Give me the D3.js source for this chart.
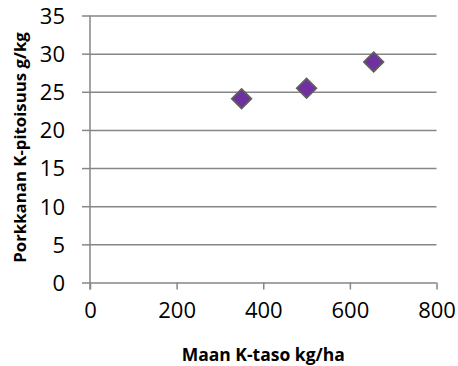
<!DOCTYPE html>
<html>
<head>
<meta charset="utf-8">
<script src="https://cdn.jsdelivr.net/npm/d3@7"></script>
<style>
  html, body { margin: 0; padding: 0; background: #fff; }
  svg { display: block; }
</style>
</head>
<body>
<svg id="chart" width="458" height="366"></svg>
<script>
// Soil K level (kg/ha) vs. carrot K content (g/kg)
const soilK = [350, 500, 655];
const carrotK = [24.1, 25.45, 28.9];
const xTicks = [0, 200, 400, 600, 800];
const yTicks = [0, 5, 10, 15, 20, 25, 30, 35];
const xTitle = "Maan K-taso kg/ha";
const yTitle = "Porkkanan K-pitoisuus g/kg";

const svg = d3.select("#chart");
const plot = { left: 90, right: 436.5, top: 15.5, bottom: 282.5 };
const gridColor = "#868686";
const font = "'Open Sans', sans-serif";

const x = d3.scaleLinear().domain([0, 800]).range([plot.left, plot.right]);
const y = d3.scaleLinear().domain([0, 35]).range([plot.bottom, plot.top]);

// horizontal gridlines, extending past the axis as tick marks
const yAxis = d3.axisLeft(y).tickValues(yTicks).tickSize(8).tickFormat(d => d).tickPadding(17);
const gy = svg.append("g").attr("transform", `translate(${plot.left},0)`).call(yAxis);
gy.select(".domain").remove();
gy.selectAll(".tick line").attr("stroke", gridColor).attr("stroke-width", 1.5);
gy.selectAll(".tick").append("line")
  .attr("x1", 0).attr("x2", plot.right - plot.left)
  .attr("stroke", gridColor).attr("stroke-width", 1.5);
gy.selectAll(".tick text")
  .attr("font-family", font).attr("font-size", 22).attr("fill", "#000")
  .attr("dy", "0.36em");

// x axis with downward ticks
const xAxis = d3.axisBottom(x).tickValues(xTicks).tickSize(7).tickFormat(d => d).tickPadding(13);
const gx = svg.append("g").attr("transform", `translate(0,${plot.bottom})`).call(xAxis);
gx.select(".domain").remove();
gx.selectAll(".tick line").attr("stroke", gridColor).attr("stroke-width", 1.5);
gx.selectAll(".tick text")
  .attr("font-family", font).attr("font-size", 22).attr("fill", "#000");

// vertical axis line
svg.append("line")
  .attr("x1", plot.left).attr("x2", plot.left)
  .attr("y1", y(35)).attr("y2", plot.bottom + 7)
  .attr("stroke", gridColor).attr("stroke-width", 1.5);

// diamond markers
const diamond = d3.symbol().type(d3.symbolSquare).size(190);
svg.append("g").selectAll("path")
  .data(soilK.map((v, i) => [v, carrotK[i]]))
  .join("path")
  .attr("d", diamond)
  .attr("transform", d => `translate(${x(d[0])},${y(d[1])}) rotate(45)`)
  .attr("fill", "#7030A0")
  .attr("stroke", "#5f5f5f")
  .attr("stroke-width", 1.8);

// axis titles
svg.append("text")
  .attr("x", (plot.left + plot.right) / 2).attr("y", 361)
  .attr("text-anchor", "middle")
  .attr("font-family", font).attr("font-weight", "bold").attr("font-size", 17.5)
  .text(xTitle);

svg.append("text")
  .attr("transform", `translate(26,147.5) rotate(-90)`)
  .attr("text-anchor", "middle")
  .attr("font-family", font).attr("font-weight", "bold").attr("font-size", 16.8)
  .text(yTitle);
</script>
</body>
</html>
